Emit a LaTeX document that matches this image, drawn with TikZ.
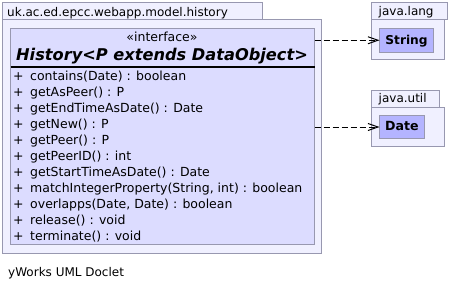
\documentclass[tikz,border=0pt]{standalone}
\usepackage{fontspec}
\setmainfont{DejaVu Sans}
\usetikzlibrary{arrows.meta}
\definecolor{pkgfill}{HTML}{F0F0FF}
\definecolor{clsfill}{HTML}{DCDCFF}
\definecolor{reffill}{HTML}{B4B4FF}
\definecolor{edgegray}{HTML}{9898B0}
\begin{document}
\begin{tikzpicture}[x=1pt,y=-1pt,
  box/.style={draw=edgegray, line width=1pt, anchor=north west, inner sep=0pt, outer sep=0pt},
  pkg/.style={box, fill=pkgfill},
  cls/.style={box, fill=clsfill},
  ref/.style={box, fill=reffill},
  txt/.style={font=\fontsize{12.5}{15}\selectfont, inner sep=0pt, anchor=base west},
  pkgname/.style={font=\fontsize{12}{14}\selectfont, inner sep=0pt, anchor=base west},
  depend/.style={dash pattern=on 6pt off 3pt, line width=1pt,
    -{Straight Barb[length=10pt,width=7pt,line width=1pt]}}]
\useasboundingbox (0,0) rectangle (454,290);
\fill[white] (0,0) rectangle (454,290);

% package uk.ac.ed.epcc.webapp.model.history
\node[pkg, minimum width=260, minimum height=16.5] (histtab) at (2.5,2.5) {};
\node[pkg, minimum width=319, minimum height=234] (histpkg) at (2.5,19) {};
\node[pkgname] (histname) at (7,16) {uk.ac.ed.epcc.webapp.model.history};

% interface History
\node[cls, minimum width=304, minimum height=216] (hist) at (10.5,28.5) {};
\node[txt, anchor=base] (stereo) at (162,41.7) {«interface»};
\node[inner sep=0pt, anchor=base, font=\fontsize{16.2}{19}\selectfont\bfseries\itshape] (title) at (162,60) {History<P extends DataObject>};
\draw[line width=2.2pt] (10.5,66.7) -- (314.5,66.7);
\foreach \m [count=\i from 0] in {
  {contains(Date) : boolean},
  {getAsPeer() : P},
  {getEndTimeAsDate() : Date},
  {getNew() : P},
  {getPeer() : P},
  {getPeerID() : int},
  {getStartTimeAsDate() : Date},
  {matchIntegerProperty(String, int) : boolean},
  {overlapps(Date, Date) : boolean},
  {release() : void},
  {terminate() : void}}
  \node[txt] (op\i) at (13,80.5+15.95*\i) {\makebox[17pt][l]{+}\m};

% package java.lang
\node[pkg, minimum width=75.5, minimum height=16.5] (langtab) at (371.5,2.5) {};
\node[pkg, minimum width=73, minimum height=40.5] (langpkg) at (371.5,19) {};
\node[pkgname] (langname) at (378.5,15) {java.lang};
\node[ref, minimum width=54, minimum height=23.5] (string) at (379.5,28.5) {};
\node[txt, anchor=base, font=\fontsize{12.2}{15}\selectfont\bfseries] (stringname) at (string.center |- 0,44.3) {String};

% package java.util
\node[pkg, minimum width=67.5, minimum height=17] (utiltab) at (371.5,90.5) {};
\node[pkg, minimum width=73, minimum height=39] (utilpkg) at (371.5,107.5) {};
\node[pkgname] (utilname) at (378.5,102.7) {java.util};
\node[ref, minimum width=45, minimum height=23] (date) at (379.5,115.5) {};
\node[txt, anchor=base, font=\fontsize{12.6}{15}\selectfont\bfseries] (datename) at (date.center |- 0,130.7) {Date};

% dependencies
\draw[depend] (hist.east |- string.west) -- (string.west);
\draw[depend] (hist.east |- date.west) -- (date.west);

% footer
\node[txt, font=\fontsize{12}{14}\selectfont] (footer) at (8,276.7) {yWorks UML Doclet};
\end{tikzpicture}
\end{document}
